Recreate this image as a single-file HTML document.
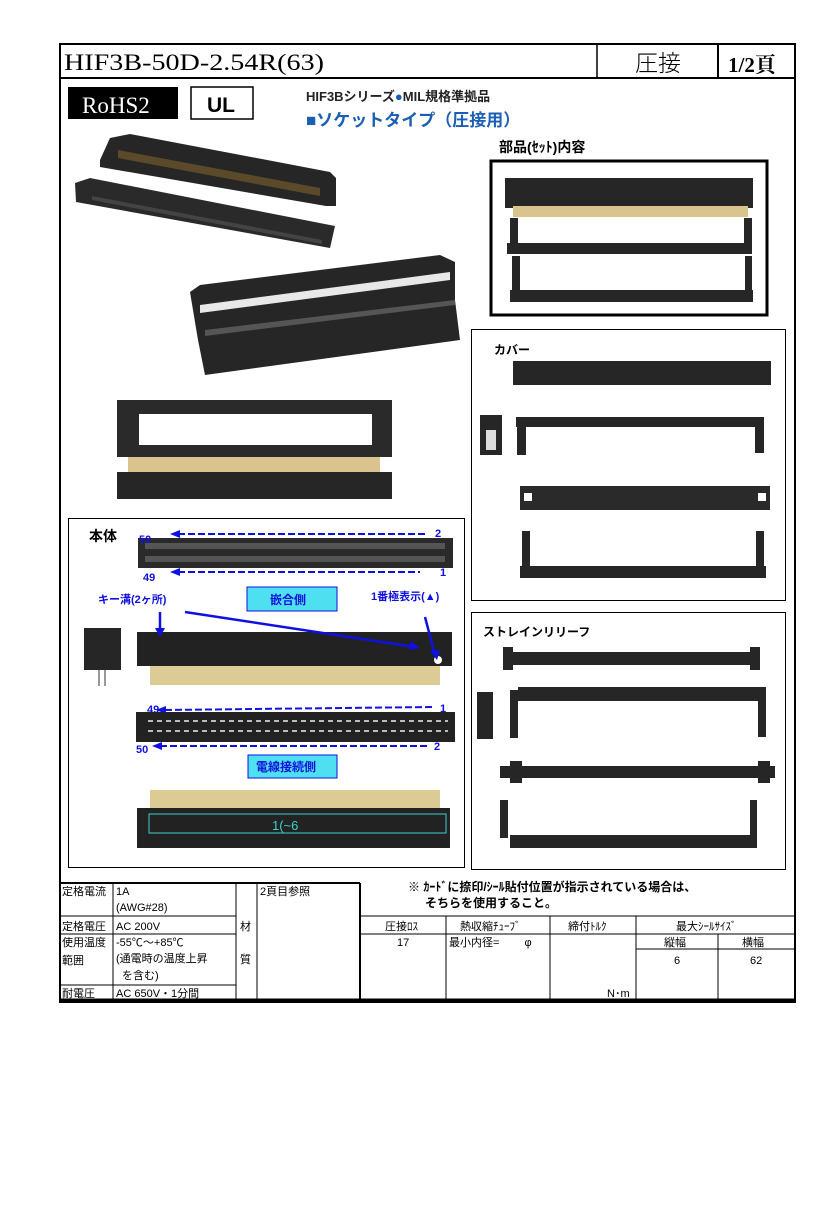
<!DOCTYPE html>
<html><head><meta charset="utf-8"><style>
html,body{margin:0;padding:0;background:#fff;}
svg{display:block;}
text{font-family:"Liberation Sans","Noto Sans CJK JP",sans-serif;}
.m{font-family:"Liberation Serif","Noto Serif CJK JP","Noto Sans CJK JP",serif;}
</style></head><body>
<svg width="827" height="1205" viewBox="0 0 827 1205" xmlns="http://www.w3.org/2000/svg">
<!-- outer frame -->
<rect x="60" y="44" width="735" height="958" fill="none" stroke="#000" stroke-width="2"/>
<line x1="60" y1="78" x2="795" y2="78" stroke="#000" stroke-width="2"/>
<line x1="597" y1="44" x2="597" y2="78" stroke="#000" stroke-width="1.5"/>
<line x1="718" y1="44" x2="718" y2="78" stroke="#000" stroke-width="2"/>
<text x="64" y="70" class="m" font-size="23" textLength="260" lengthAdjust="spacingAndGlyphs">HIF3B-50D-2.54R(63)</text>
<text x="635" y="71" font-size="23" fill="#000" font-family="Noto Sans CJK JP,sans-serif" font-weight="300">圧接</text>
<text x="728" y="72" class="m" font-size="21" font-weight="bold">1/2頁</text>

<!-- RoHS / UL -->
<rect x="68" y="87" width="110" height="32" fill="#000"/>
<text x="82" y="113" class="m" font-size="23" fill="#fff">RoHS2</text>
<rect x="191" y="87" width="62" height="32" fill="#fff" stroke="#000" stroke-width="1.5"/>
<text x="207" y="112" font-size="21" font-weight="bold">UL</text>
<text x="306" y="101" font-size="13" font-weight="bold" fill="#222">HIF3Bシリーズ<tspan fill="#1a5fb4">●</tspan>MIL規格準拠品</text>
<text x="306" y="126" font-size="17" font-weight="bold" fill="#1a5fb4">■ソケットタイプ（圧接用）</text>

<!-- photo 1 -->
<polygon points="100,160 110,138 130,134 330,172 336,178 336,206 326,206 100,167" fill="#262626"/>
<polygon points="118,150 320,188 320,196 118,158" fill="#5a4a2a"/>
<polygon points="75,183 90,178 335,226 330,248 76,202" fill="#2a2a2a"/>
<polygon points="92,196 322,240 322,244 92,200" fill="#444"/>
<!-- photo 2 -->
<polygon points="190,292 200,285 440,255 455,262 455,300 460,340 205,375 198,340" fill="#262626"/>
<polygon points="200,305 450,272 450,280 200,313" fill="#e8e8e8"/>
<polygon points="205,330 455,300 455,305 205,336" fill="#555"/>
<!-- photo 3 -->
<rect x="117" y="400" width="22" height="50" fill="#2a2a2a"/>
<rect x="372" y="400" width="20" height="50" fill="#2a2a2a"/>
<rect x="125" y="400" width="262" height="14" fill="#2a2a2a"/>
<rect x="117" y="445" width="275" height="12" fill="#2a2a2a"/>
<rect x="128" y="457" width="252" height="15" fill="#d8c48c"/>
<rect x="117" y="472" width="275" height="27" fill="#262626"/>

<!-- set box -->
<text x="499" y="152" font-size="14" font-weight="bold">部品(ｾｯﾄ)内容</text>
<rect x="491" y="161" width="276" height="154" fill="#fff" stroke="#000" stroke-width="3"/>
<rect x="505" y="178" width="248" height="30" fill="#262626"/>
<rect x="513" y="206" width="235" height="11" fill="#d8c48c"/>
<rect x="507" y="243" width="245" height="11" fill="#262626"/>
<rect x="510" y="218" width="8" height="30" fill="#262626"/>
<rect x="744" y="218" width="8" height="30" fill="#262626"/>
<rect x="510" y="290" width="243" height="12" fill="#262626"/>
<rect x="512" y="256" width="8" height="40" fill="#262626"/>
<rect x="745" y="256" width="7" height="40" fill="#262626"/>

<!-- cover box -->
<rect x="471.5" y="329.5" width="314" height="271" fill="none" stroke="#000" stroke-width="1"/>
<text x="494" y="354" font-size="12" font-weight="bold">カバー</text>
<rect x="513" y="361" width="258" height="24" fill="#262626"/>
<rect x="516" y="417" width="248" height="10" fill="#262626"/>
<rect x="517" y="417" width="9" height="38" fill="#262626"/>
<rect x="755" y="417" width="9" height="36" fill="#262626"/>
<rect x="480" y="415" width="22" height="40" fill="#262626"/>
<rect x="486" y="430" width="10" height="20" fill="#ddd"/>
<rect x="520" y="486" width="250" height="24" fill="#2a2a2a"/>
<rect x="524" y="493" width="8" height="8" fill="#fff"/>
<rect x="758" y="493" width="8" height="8" fill="#fff"/>
<rect x="520" y="566" width="246" height="12" fill="#262626"/>
<rect x="522" y="531" width="8" height="40" fill="#262626"/>
<rect x="756" y="531" width="8" height="40" fill="#262626"/>

<!-- strain relief box -->
<rect x="471.5" y="612.5" width="314" height="257" fill="none" stroke="#000" stroke-width="1"/>
<text x="483" y="636" font-size="12" font-weight="bold">ストレインリリーフ</text>
<rect x="503" y="652" width="257" height="13" fill="#262626"/>
<rect x="503" y="647" width="10" height="23" fill="#262626"/>
<rect x="750" y="647" width="10" height="23" fill="#262626"/>
<rect x="518" y="687" width="248" height="14" fill="#262626"/>
<rect x="510" y="690" width="8" height="48" fill="#262626"/>
<rect x="758" y="690" width="8" height="47" fill="#262626"/>
<rect x="477" y="692" width="16" height="47" fill="#262626"/>
<rect x="500" y="766" width="275" height="12" fill="#262626"/>
<rect x="510" y="761" width="12" height="22" fill="#262626"/>
<rect x="758" y="761" width="12" height="22" fill="#262626"/>
<rect x="510" y="835" width="247" height="13" fill="#262626"/>
<rect x="500" y="800" width="8" height="38" fill="#262626"/>
<rect x="750" y="800" width="7" height="38" fill="#262626"/>

<!-- 本体 box -->
<rect x="68.5" y="518.5" width="396" height="349" fill="none" stroke="#000" stroke-width="1"/>
<text x="89" y="541" font-size="14" font-weight="bold">本体</text>
<rect x="138" y="538" width="315" height="30" fill="#2a2a2a"/>
<g fill="#555"><rect x="145" y="543" width="300" height="6"/><rect x="145" y="556" width="300" height="6"/></g>
<g stroke="#1010e0" stroke-width="2" stroke-dasharray="7,3" fill="none">
<line x1="178" y1="534" x2="425" y2="534"/><line x1="178" y1="572" x2="420" y2="572"/>
<line x1="165" y1="710" x2="432" y2="707"/><line x1="160" y1="746" x2="430" y2="746"/>
</g>
<g fill="#1010e0">
<polygon points="170,534 180,530 180,538"/><polygon points="170,572 180,568 180,576"/>
<polygon points="156,710 166,706 166,714"/><polygon points="152,746 162,742 162,750"/>
</g>
<g font-size="11" font-weight="bold" fill="#1010e0">
<text x="139" y="543">50</text><text x="143" y="581">49</text>
<text x="435" y="537">2</text><text x="440" y="576">1</text>
<text x="147" y="713">49</text><text x="440" y="712">1</text>
<text x="136" y="753">50</text><text x="434" y="750">2</text>
<text x="98" y="603">キー溝(2ヶ所)</text><text x="371" y="600">1番極表示(▲)</text>
</g>
<rect x="247" y="587" width="90" height="24" fill="#4ee0f0" stroke="#1010e0" stroke-width="1"/>
<text x="270" y="604" font-size="12" font-weight="bold" fill="#1010e0">嵌合側</text>
<rect x="84" y="628" width="37" height="42" fill="#262626"/>
<rect x="98" y="670" width="2" height="16" fill="#999"/><rect x="104" y="670" width="2" height="16" fill="#999"/>
<rect x="137" y="632" width="315" height="34" fill="#222"/>
<rect x="150" y="666" width="290" height="19" fill="#dccb95"/>
<circle cx="438" cy="660" r="4" fill="#fff"/>
<g stroke="#1010e0" stroke-width="2.5"><line x1="160" y1="612" x2="160" y2="632"/><line x1="185" y1="612" x2="415" y2="647"/><line x1="425" y1="617" x2="435" y2="655"/></g>
<g fill="#1010e0"><polygon points="160,637 155,628 165,628"/><polygon points="420,648 409,650 411,641"/><polygon points="437,660 430,651 440,650"/></g>
<rect x="136" y="712" width="319" height="30" fill="#222"/>
<g stroke="#bbb" stroke-width="2" stroke-dasharray="5,4"><line x1="148" y1="721" x2="448" y2="721"/><line x1="148" y1="731" x2="448" y2="731"/></g>
<rect x="248" y="755" width="89" height="23" fill="#4ee0f0" stroke="#1010e0" stroke-width="1"/>
<text x="256" y="771" font-size="12" font-weight="bold" fill="#1010e0">電線接続側</text>
<rect x="150" y="790" width="290" height="19" fill="#dccb95"/>
<rect x="137" y="808" width="313" height="40" fill="#222"/>
<rect x="149" y="814" width="297" height="19" fill="none" stroke="#3cd0d0" stroke-width="1"/>
<text x="272" y="830" font-size="13" fill="#3cd0d0">1(~6</text>

<!-- bottom table -->
<g stroke="#000" stroke-width="1" fill="none">
<line x1="60" y1="883" x2="360" y2="883" stroke-width="2"/>
<line x1="60" y1="916" x2="236" y2="916"/>
<line x1="360" y1="916" x2="795" y2="916"/>
<line x1="60" y1="934" x2="236" y2="934"/>
<line x1="360" y1="934" x2="795" y2="934"/>
<line x1="636" y1="949" x2="795" y2="949"/>
<line x1="60" y1="985" x2="236" y2="985"/>
<line x1="113" y1="883" x2="113" y2="1000"/>
<line x1="236" y1="883" x2="236" y2="1000"/>
<line x1="257" y1="883" x2="257" y2="1000"/>
<line x1="360" y1="883" x2="360" y2="1000" stroke-width="2"/>
<line x1="446" y1="916" x2="446" y2="1000"/>
<line x1="550" y1="916" x2="550" y2="1000"/>
<line x1="636" y1="916" x2="636" y2="1000"/>
<line x1="718" y1="934" x2="718" y2="1000"/>
<line x1="60" y1="1000" x2="795" y2="1000" stroke-width="3"/>
</g>
<g font-size="11" fill="#000">
<text x="62" y="895">定格電流</text><text x="116" y="895">1A</text><text x="116" y="911">(AWG#28)</text>
<text x="62" y="930">定格電圧</text><text x="116" y="930">AC 200V</text>
<text x="62" y="946">使用温度</text><text x="116" y="946">-55℃～+85℃</text>
<text x="62" y="964">範囲</text><text x="116" y="962">(通電時の温度上昇</text><text x="122" y="979">を含む)</text>
<text x="62" y="997">耐電圧</text><text x="116" y="997">AC 650V・1分間</text>
<text x="240" y="930">材</text><text x="240" y="963">質</text>
<text x="260" y="895">2頁目参照</text>
<text x="385" y="930">圧接ﾛｽ</text><text x="460" y="930">熱収縮ﾁｭｰﾌﾞ</text><text x="568" y="930">締付ﾄﾙｸ</text><text x="676" y="930">最大ｼｰﾙｻｲｽﾞ</text>
<text x="397" y="946">17</text><text x="449" y="946">最小内径=　　 φ</text>
<text x="664" y="946">縦幅</text><text x="742" y="946">横幅</text>
<text x="674" y="964">6</text><text x="750" y="964">62</text>
<text x="607" y="997">N･m</text>
</g>
<text x="408" y="891" font-size="12" font-weight="bold">※ ｶｰﾄﾞに捺印/ｼｰﾙ貼付位置が指示されている場合は、</text>
<text x="425" y="907" font-size="12" font-weight="bold">そちらを使用すること。</text>
</svg>
</body></html>
